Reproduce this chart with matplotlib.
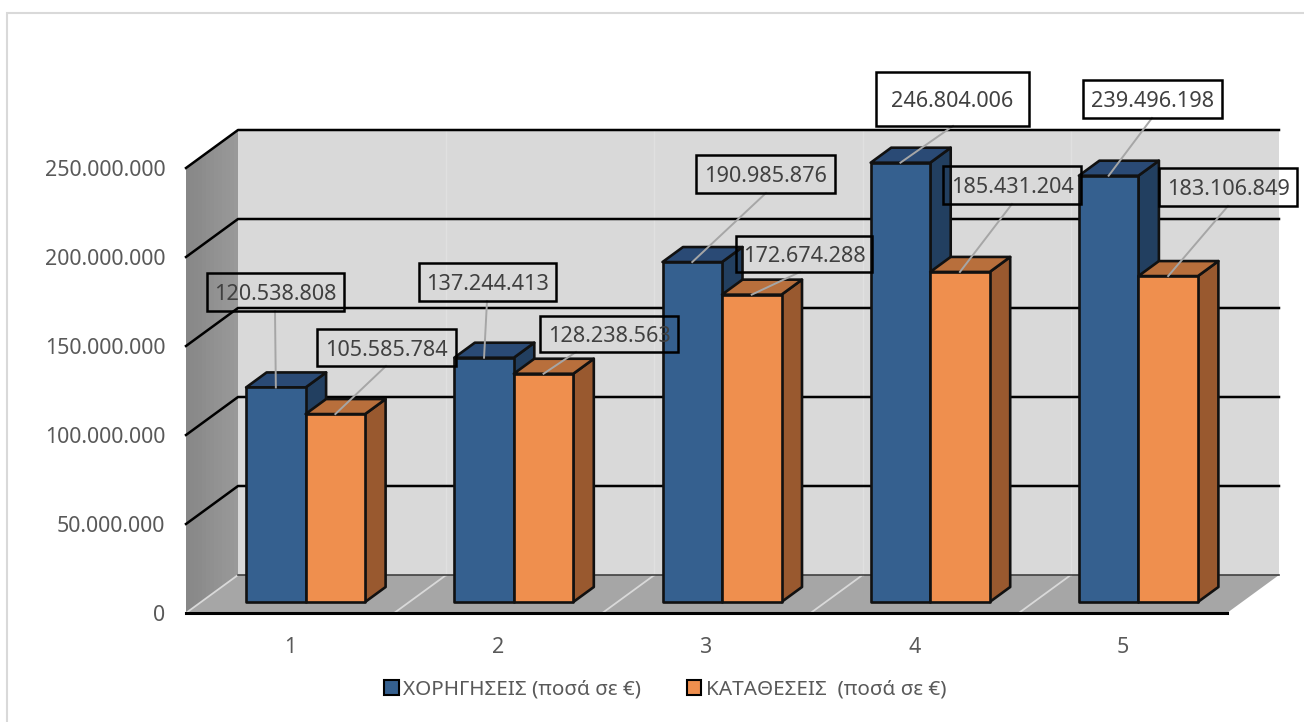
import numpy as np
import matplotlib
matplotlib.use("Agg")
import matplotlib.pyplot as plt
from matplotlib.patches import Polygon, Rectangle, Patch
from matplotlib.ticker import FuncFormatter

# ---- data ----
categories = [1, 2, 3, 4, 5]
loans = [120538808, 137244413, 190985876, 246804006, 239496198]
deposits = [105585784, 128238563, 172674288, 185431204, 183106849]
series_names = ["ΧΟΡΗΓΗΣΕΙΣ (ποσά σε €)", "ΚΑΤΑΘΕΣΕΙΣ  (ποσά σε €)"]
y_ticks = [0, 50000000, 100000000, 150000000, 200000000, 250000000]

# ---- layout (pixels of the 1304x722 picture) ----
W, H = 1304, 722
L, R, B, T = 186, 1227, 613, 168          # front plane of the chart box
WALL_DX, WALL_DY = 52, 38                 # depth of the chart box
BAR_DX, BAR_DY = 15.5, 11                 # where the bars' front faces sit
DEPTH_DX, DEPTH_DY = 20.5, 15             # depth of a bar
BAR_W = 59.5
# label boxes: left, right, top, bottom, leader start x
loan_boxes = [(207, 344, 273, 311, 275), (419, 556, 263, 301, 487), (696, 835, 155, 193, 766),
              (876, 1029, 72, 126, 953), (1083, 1222, 80, 118, 1152)]
dep_boxes = [(317, 456, 329, 366, 386), (540, 678, 316, 352, 576), (736, 872, 236, 272, 800),
             (943, 1081, 166, 204, 1012), (1159, 1297, 168, 206, 1228)]

BLUE, BLUE_TOP, BLUE_SIDE = "#35608F", "#2A4A75", "#223F60"
ORANGE, ORANGE_TOP, ORANGE_SIDE = "#EF8F4E", "#B86F3C", "#99592F"
WALL, FLOOR = "#D9D9D9", "#A6A6A6"
TXT, LBL = "#595959", "#404040"

plt.rcParams["font.family"] = ["Noto Sans", "DejaVu Sans"]
fig = plt.figure(figsize=(W / 100, H / 100), dpi=100, facecolor="white")
ax = fig.add_axes([L / W, 1 - B / H, (R - L) / W, (B - T) / H], facecolor="none")
ax.set_xlim(0.5, 5.5)
ax.set_ylim(0, 250000000)

ux = 5 / (R - L)                # data per pixel
uy = 250000000 / (B - T)
xp = lambda px: 0.5 + (px - L) * ux
yp = lambda py: (B - py) * uy

def poly(pts, fc, ec="none", lw=0, z=1):
    ax.add_patch(Polygon(pts, closed=True, facecolor=fc, edgecolor=ec, linewidth=lw,
                         zorder=z, clip_on=False, joinstyle="round"))

wx, wy = WALL_DX * ux, WALL_DY * uy
y_top = y_ticks[-1]

# chart frame
fig.add_artist(Rectangle((7 / W, -0.05), 1.1, 1 - 13 / H + 0.05, transform=fig.transFigure,
                         facecolor="none", edgecolor="#D9D9D9", linewidth=1.5))

# walls and floor
poly([(0.5 + wx, wy), (5.5 + wx, wy), (5.5 + wx, y_top + wy), (0.5 + wx, y_top + wy)], WALL)
poly([(0.5, 0), (5.5, 0), (5.5 + wx, wy), (0.5 + wx, wy)], FLOOR)
# side wall with a soft left-to-right shade
n_strips = 13
for i in range(n_strips):
    f0, f1 = i / n_strips, (i + 1.15) / n_strips
    f1 = min(f1, 1)
    shade = 0.53 + 0.07 * i / (n_strips - 1)
    poly([(0.5 + f0 * wx, f0 * wy), (0.5 + f1 * wx, f1 * wy),
          (0.5 + f1 * wx, y_top + f1 * wy), (0.5 + f0 * wx, y_top + f0 * wy)], str(round(shade, 3)))

# faint category dividers on floor and back wall
for i in range(6):
    xb = 0.5 + i
    if i < 5:
        ax.plot([xb, xb + wx], [0, wy], color="#D9D9D9", lw=1.3, zorder=2, clip_on=False)
    if 0 < i < 5:
        ax.plot([xb + wx, xb + wx], [wy, y_top + wy], color="#E0E0E0", lw=1, zorder=2, clip_on=False)

# gridlines
for v in y_ticks[1:]:
    ax.plot([0.5, 0.5 + wx, 5.5 + wx], [v, v + wy, v + wy], color="black", lw=1.8, zorder=2,
            clip_on=False, solid_joinstyle="round")
ax.plot([0.5 + wx, 5.5 + wx], [wy, wy], color="#404040", lw=1.2, zorder=2, clip_on=False)

# bars
dx, dy = DEPTH_DX * ux, DEPTH_DY * uy
bw = BAR_W * ux
ox, oy = BAR_DX * ux, BAR_DY * uy

def bar3d(x0, v, front, top, side_c, z):
    x1 = x0 + bw
    kw = dict(ec="#111111", lw=1.9, z=z)
    poly([(x1, oy), (x1 + dx, oy + dy), (x1 + dx, v + oy + dy), (x1, v + oy)], side_c, **kw)
    poly([(x0, v + oy), (x1, v + oy), (x1 + dx, v + oy + dy), (x0 + dx, v + oy + dy)], top, **kw)
    poly([(x0, oy), (x1, oy), (x1, v + oy), (x0, v + oy)], front, **kw)

for c, a, b in zip(categories, loans, deposits):
    bar3d(c + ox - bw, a, BLUE, BLUE_TOP, BLUE_SIDE, 3)
    bar3d(c + ox, b, ORANGE, ORANGE_TOP, ORANGE_SIDE, 4)

# data labels with leaders
def label(v, xc, box):
    l, r, t, b, sx = box
    ax.plot([xp(sx), xc], [yp(b), v + oy], color="#A6A6A6", lw=1.4, zorder=5, clip_on=False)
    ax.add_patch(Rectangle((xp(l), yp(b)), (r - l) * ux, (b - t) * uy, facecolor="none",
                           edgecolor="black", linewidth=1.8, zorder=6, clip_on=False))
    ax.text(xp((l + r) / 2), yp((t + b) / 2), f"{v:,}".replace(",", "."), ha="center",
            va="center_baseline", fontsize=15.6, color=LBL, zorder=7, clip_on=False)

for c, a, b, ba, bb in zip(categories, loans, deposits, loan_boxes, dep_boxes):
    label(a, c + ox - bw / 2, ba)
    label(b, c + ox + bw / 2, bb)

# axes
for name in ("top", "left", "right"):
    ax.spines[name].set_visible(False)
ax.spines["bottom"].set_color("black")
ax.spines["bottom"].set_linewidth(2.2)
ax.spines["bottom"].set_zorder(2.5)
ax.set_xticks(categories)
ax.set_yticks(y_ticks)
ax.yaxis.set_major_formatter(FuncFormatter(lambda v, _: f"{int(v):,}".replace(",", ".")))
ax.tick_params(axis="both", length=0, labelsize=15.4, labelcolor=TXT)
ax.tick_params(axis="y", pad=15)
ax.tick_params(axis="x", pad=17)

# legend
handles = [Patch(facecolor=BLUE, edgecolor="black", linewidth=1.5, label=series_names[0]),
           Patch(facecolor=ORANGE, edgecolor="black", linewidth=1.5, label=series_names[1])]
leg = fig.legend(handles=handles, ncol=2, loc="center", bbox_to_anchor=(665 / W, 1 - 690 / H),
                 frameon=False, fontsize=14.9, labelcolor=TXT, handlelength=0.72, handleheight=0.72,
                 handletextpad=0.2, columnspacing=2.2)

fig.savefig("out.png", dpi=100, facecolor="white")
